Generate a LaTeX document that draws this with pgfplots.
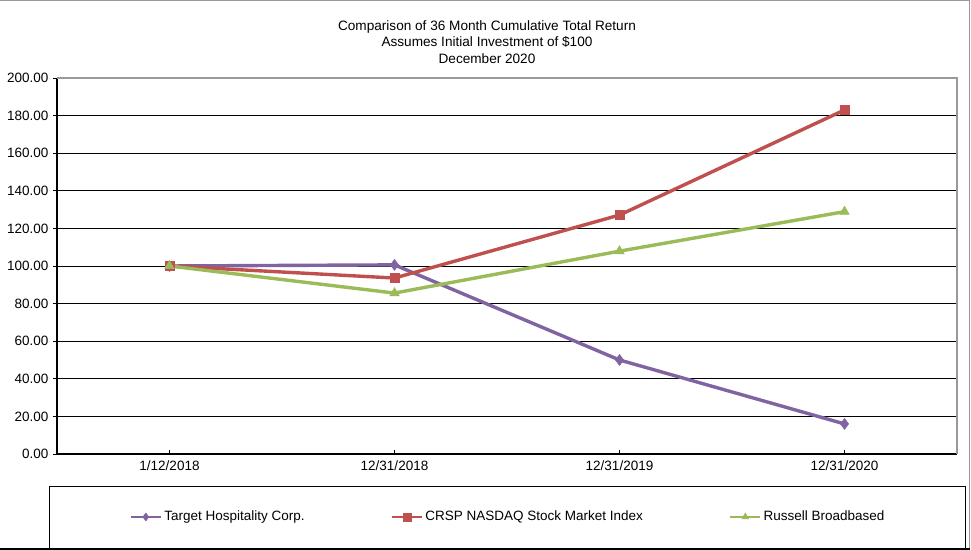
\documentclass[border=0pt]{standalone}
\usepackage{fontspec}
\setmainfont{Liberation Sans}
\usepackage{pgfplots}
\pgfplotsset{compat=1.18}

\definecolor{tgt}{RGB}{128,100,162}
\definecolor{crsp}{RGB}{192,80,77}
\definecolor{rus}{RGB}{155,187,89}

\begin{document}
\fontsize{13.5bp}{16bp}\selectfont
\begin{tikzpicture}[x=1bp,y=1bp]
% page = 971 x 550 px, axis corner at px (57,454)
\useasboundingbox (-57,-96) rectangle (914,454);
\draw[gray!80, line width=1.2bp] (-57,453.5) -- (912.5,453.5) -- (912.5,-95);
\draw[black, line width=1.2bp] (-57,-95) -- (912.5,-95);
% legend box
\draw[black, line width=1bp] (-7,-95) -- (-7,-33) -- (908,-33) -- (908,-95);

\node[align=center, font=\fontsize{13.6bp}{16.2bp}\selectfont] at (430,412) {Comparison of 36 Month Cumulative Total Return\\Assumes Initial Investment of \$100\\December 2020};

\begin{axis}[
    at={(0,0)}, anchor=south west,
    scale only axis,
    width=900bp, height=376bp,
    xmin=-0.5, xmax=3.5,
    ymin=0, ymax=200,
    xtick={0,1,2,3},
    xticklabels={1/12/2018,12/31/2018,12/31/2019,12/31/2020},
    ytick={0,20,...,200},
    yticklabel style={/pgf/number format/.cd, fixed, fixed zerofill, precision=2, assume math mode=true},
    ticklabel style={font=\fontsize{13.5bp}{16bp}\selectfont},
    axis lines*=left,
    axis line style={black, line width=1.2bp, -},
    ymajorgrids,
    grid style={black, line width=0.8bp},
    y tick style={black, line width=0.8bp},
    x tick style={black, line width=0.6bp},
    ytick align=outside,
    xtick align=inside,
    major tick length=4bp,
    xticklabel shift=2bp,
    clip=false,
    legend columns=3,
    legend style={at={(451bp,-63bp)}, anchor=center, draw=none, fill=none,
        font=\fontsize{13.5bp}{16bp}\selectfont,
        /tikz/every even column/.append style={column sep=84bp}},
    legend cell align=left,
    legend image code/.code={
        \draw[#1, line width=2.8bp, mark=none] (0bp,0bp) -- (30bp,0bp);
        \draw[#1, mark repeat=1, mark size=4bp] plot coordinates {(15bp,0bp)};
    },
]
\draw[gray!80, line width=1.2bp] (rel axis cs:0,1) -- (rel axis cs:1,1) -- (rel axis cs:1,0);

\addplot[tgt, line width=3.4bp, mark=diamond*, mark size=5.5bp, mark options={solid, line width=0.5bp}] coordinates {
    (0,100.0) (1,100.6) (2,50.0) (3,16.0)
};
\addplot[crsp, line width=3.4bp, mark=square*, mark size=4.5bp, mark options={solid, line width=0.5bp}] coordinates {
    (0,100.0) (1,93.6) (2,127.1) (3,183.0)
};
\addplot[rus, line width=3.4bp, mark=triangle*, mark size=5.5bp, mark options={solid, line width=0.5bp}] coordinates {
    (0,100.0) (1,85.6) (2,107.9) (3,128.9)
};
\legend{Target Hospitality Corp., CRSP NASDAQ Stock Market Index, Russell Broadbased}
\end{axis}
\end{tikzpicture}
\end{document}
